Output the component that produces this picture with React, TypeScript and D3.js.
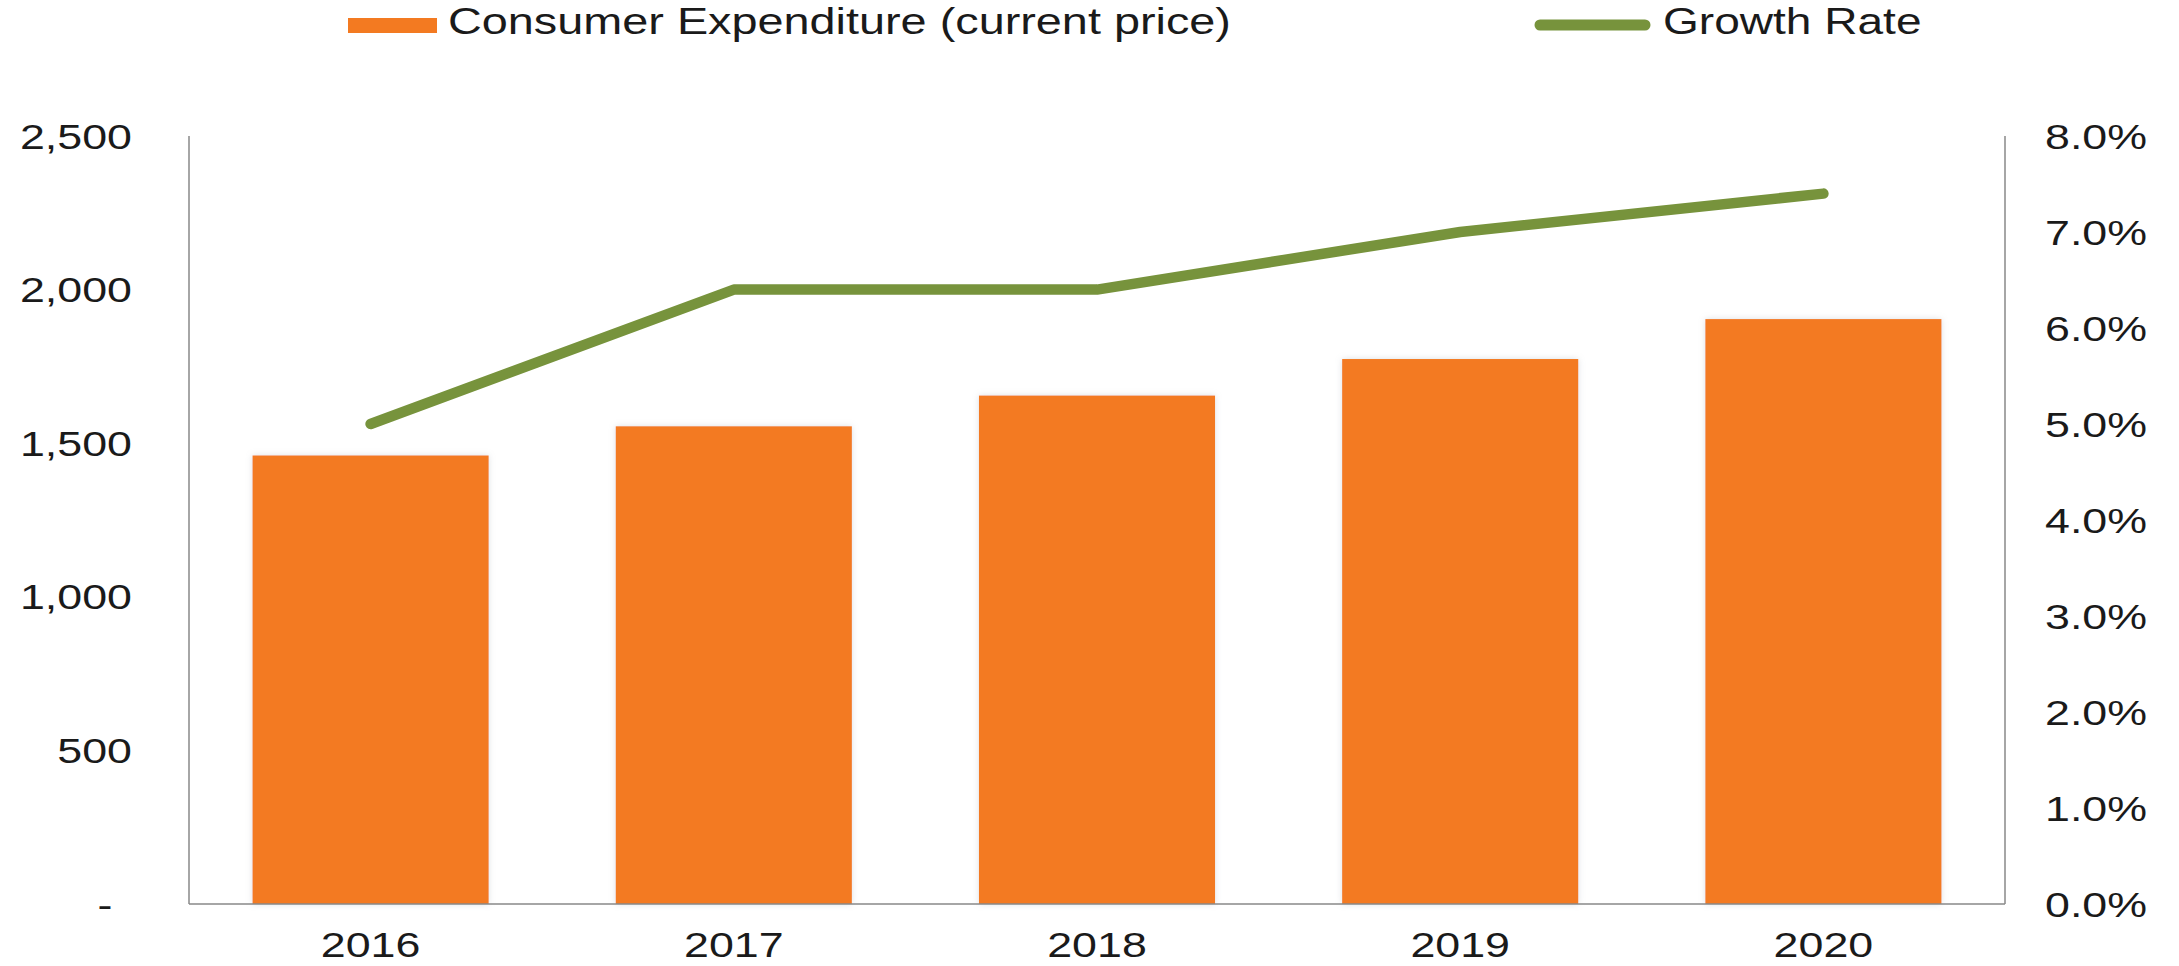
import React from "react";
import * as d3 from "d3";

const years = ["2016", "2017", "2018", "2019", "2020"];
const expenditure = [1460, 1555, 1655, 1774, 1904];
const growthRate = [5.0, 6.4, 6.4, 7.0, 7.4];
const leftTicks = [0, 500, 1000, 1500, 2000, 2500];
const rightTicks = [0, 1, 2, 3, 4, 5, 6, 7, 8];

const W = 2179;
const H = 966;
const M = { left: 189, right: 2005, top: 136, bottom: 904 };
const SX = 1.28;
const FONT = "'Liberation Sans', Arial, sans-serif";
const BAR = "#F37A21";
const GREEN = "#77933C";

function T({ x, y, anchor = "start", size = 35, sx = SX, children }: any) {
  return (
    <text
      transform={`translate(${x},${y}) scale(${sx},1)`}
      textAnchor={anchor}
      fontFamily={FONT}
      fontSize={size}
      fill="#1a1a1a"
    >
      {children}
    </text>
  );
}

export default function App() {
  const x = d3.scaleBand().domain(years).range([M.left, M.right]).paddingInner(0.35).paddingOuter(0.175);
  const yL = d3.scaleLinear().domain([0, 2500]).range([M.bottom, M.top]);
  const yR = d3.scaleLinear().domain([0, 8]).range([M.bottom, M.top]);
  const fmt = d3.format(",");
  const line = d3
    .line<number>()
    .x((_, i) => (x(years[i]) as number) + x.bandwidth() / 2)
    .y((d) => yR(d));

  return (
    <svg width={W} height={H} style={{ position: "absolute", left: 0, top: 0, background: "#fff" }}>
      <defs>
        <filter id="sh" x="-10%" y="-10%" width="120%" height="120%">
          <feDropShadow dx="0" dy="0" stdDeviation="3" floodColor="#9aa4b0" floodOpacity="0.35" />
        </filter>
      </defs>
      <rect width={W} height={H} fill="#fff" />

      {/* legend */}
      <rect x={348} y={18} width={89} height={15} fill={BAR} />
      <T x={448} y={34} size={36} sx={1.3}>Consumer Expenditure (current price)</T>
      <line x1={1540} x2={1645} y1={25} y2={25} stroke={GREEN} strokeWidth={11} strokeLinecap="round" />
      <T x={1663} y={34} size={36}>Growth Rate</T>

      {/* bars */}
      {expenditure.map((v, i) => (
        <rect
          key={years[i]}
          x={x(years[i])}
          y={yL(v)}
          width={x.bandwidth()}
          height={yL(0) - yL(v)}
          fill={BAR}
          filter="url(#sh)"
        />
      ))}

      {/* axes */}
      <line x1={M.left} x2={M.left} y1={M.top} y2={M.bottom} stroke="#888" strokeWidth={1.5} />
      <line x1={M.right} x2={M.right} y1={M.top} y2={M.bottom} stroke="#888" strokeWidth={1.5} />
      <line x1={M.left} x2={M.right} y1={M.bottom} y2={M.bottom} stroke="#888" strokeWidth={1.5} />

      {/* growth line */}
      <path d={line(growthRate) || ""} fill="none" stroke={GREEN} strokeWidth={10.5} strokeLinecap="round" strokeLinejoin="round" />

      {/* left ticks */}
      {leftTicks.map((t) => (
        <T key={t} x={t === 0 ? 112.5 : 132} y={yL(t) + 12.5} anchor="end">
          {t === 0 ? "-" : fmt(t)}
        </T>
      ))}

      {/* right ticks */}
      {rightTicks.map((t) => (
        <T key={t} x={2045} y={yR(t) + 12.5}>
          {t.toFixed(1) + "%"}
        </T>
      ))}

      {/* x labels */}
      {years.map((yv) => (
        <T key={yv} x={(x(yv) as number) + x.bandwidth() / 2} y={957} anchor="middle">
          {yv}
        </T>
      ))}
    </svg>
  );
}
